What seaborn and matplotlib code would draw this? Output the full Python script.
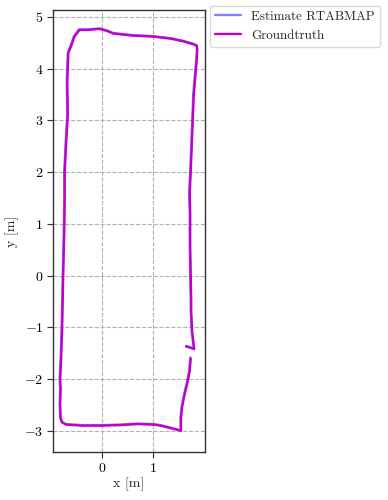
import matplotlib
matplotlib.use("Agg")
import matplotlib.pyplot as plt
import seaborn as sns
import pandas as pd

# Groundtruth trajectory [m]
gt_x = [1.74, 1.72, 1.68, 1.62, 1.57, 1.55, 1.55, 1.35, 1.15, 1.00, 0.70, 0.35, 0.00, -0.40,
        -0.70, -0.78, -0.81, -0.82, -0.81, -0.82, -0.80, -0.78, -0.77, -0.76, -0.74, -0.73,
        -0.73, -0.70, -0.67, -0.68, -0.66, -0.60, -0.54, -0.44, -0.27, -0.05, 0.10, 0.22,
        0.60, 1.01, 1.35, 1.59, 1.80, 1.86, 1.87, 1.86, 1.84, 1.80, 1.78, 1.76, 1.74, 1.72,
        1.73, 1.73, 1.74, 1.75, 1.75, 1.77, 1.80, 1.81, 1.72, 1.65]
gt_y = [-1.60, -1.85, -2.05, -2.30, -2.55, -2.75, -3.00, -2.95, -2.90, -2.88, -2.87, -2.89,
        -2.90, -2.90, -2.88, -2.84, -2.75, -2.50, -2.20, -2.00, -1.60, -1.00, -0.50, 0.00,
        0.80, 1.50, 2.00, 2.60, 3.10, 3.75, 4.30, 4.45, 4.62, 4.75, 4.75, 4.77, 4.73, 4.68,
        4.64, 4.62, 4.58, 4.53, 4.47, 4.44, 4.36, 4.20, 3.96, 3.50, 3.00, 2.50, 2.00, 1.60,
        1.20, 0.60, 0.00, -0.50, -0.70, -1.10, -1.35, -1.42, -1.39, -1.37]

# Estimated trajectory (RTABMAP) [m]
est_x = [1.73, 1.71, 1.67, 1.61, 1.56, 1.54, 1.54, 1.35, 1.15, 1.00, 0.70, 0.35, 0.00, -0.40,
         -0.71, -0.79, -0.82, -0.83, -0.82, -0.83, -0.81, -0.79, -0.78, -0.77, -0.75, -0.74,
         -0.74, -0.71, -0.68, -0.69, -0.67, -0.61, -0.55, -0.45, -0.27, -0.05, 0.10, 0.22,
         0.60, 1.01, 1.35, 1.59, 1.80, 1.86, 1.86, 1.85, 1.83, 1.79, 1.77, 1.75, 1.73, 1.71,
         1.72, 1.72, 1.73, 1.74, 1.74, 1.76, 1.79, 1.80, 1.72, 1.65]
est_y = [-1.58, -1.84, -2.04, -2.29, -2.54, -2.74, -2.99, -2.94, -2.89, -2.87, -2.86, -2.88,
         -2.89, -2.89, -2.87, -2.83, -2.74, -2.49, -2.19, -1.99, -1.59, -0.99, -0.49, 0.01,
         0.81, 1.51, 2.01, 2.61, 3.11, 3.76, 4.31, 4.46, 4.63, 4.76, 4.76, 4.78, 4.74, 4.69,
         4.65, 4.63, 4.59, 4.54, 4.48, 4.45, 4.37, 4.21, 3.97, 3.51, 3.01, 2.51, 2.01, 1.61,
         1.21, 0.61, 0.01, -0.49, -0.69, -1.09, -1.34, -1.41, -1.38, -1.36]

x_ticks = [0, 1]
y_ticks = [-3, -2, -1, 0, 1, 2, 3, 4, 5]
est_label = "Estimate RTABMAP"
gt_label = "Groundtruth"

sns.set_style("ticks")
plt.rcParams["font.family"] = ["cmr10", "DejaVu Serif"]
plt.rcParams["mathtext.fontset"] = "cm"
plt.rcParams["axes.formatter.use_mathtext"] = True
plt.rcParams["font.size"] = 10

df_est = pd.DataFrame({"x": est_x, "y": est_y})
df_gt = pd.DataFrame({"x": gt_x, "y": gt_y})

fig = plt.figure(figsize=(3.88, 5.0), dpi=100)
ax = fig.add_axes([53 / 388, 1 - 452 / 500, 152 / 388, 442 / 500])

sns.lineplot(data=df_est, x="x", y="y", sort=False, estimator=None, ax=ax,
             color="blue", alpha=0.5, linewidth=1.7, label=est_label)
sns.lineplot(data=df_gt, x="x", y="y", sort=False, estimator=None, ax=ax,
             color="#c000c8", linewidth=1.7, label=gt_label)

ax.set_xlim(-0.96, 2.02)
ax.set_ylim(-3.41, 5.135)
ax.set_xticks(x_ticks)
ax.set_yticks(y_ticks)
ax.grid(True, linestyle="--", color="#b0b0b0", linewidth=0.8)
ax.set_axisbelow(True)
ax.set_xlabel("x [m]", labelpad=2)
ax.set_ylabel("y [m]")
for s in ax.spines.values():
    s.set_color("#333333")
    s.set_linewidth(1.0)
ax.tick_params(colors="#333333", labelcolor="black", length=4, width=0.8, pad=3)

leg = ax.legend(loc="upper left", bbox_to_anchor=(1.03, 1.01), frameon=True,
                fancybox=True, fontsize=9.4, borderaxespad=0.0)
leg.get_frame().set_edgecolor("#d0d0d0")

fig.savefig("out.png", dpi=100)
